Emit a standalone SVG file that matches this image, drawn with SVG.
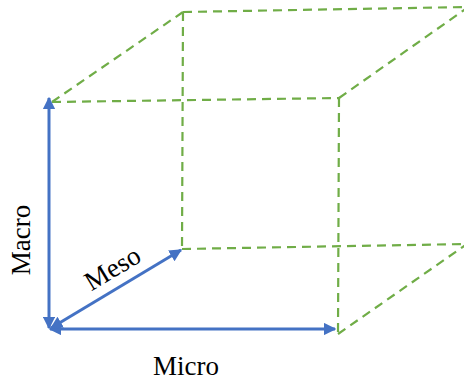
<svg xmlns="http://www.w3.org/2000/svg" width="464" height="383" viewBox="0 0 464 383">
<style>
.cube{stroke:#70AD47;stroke-width:2.2;stroke-dasharray:9 6;fill:none}
.axis{stroke:#4472C4;stroke-width:3;fill:none;marker-start:url(#ah);marker-end:url(#ah)}
.lbl{font-family:"Liberation Serif","Times New Roman",serif;font-size:27px;fill:#000}
</style>
<defs>
<marker id="ah" viewBox="0 0 10 10" refX="9" refY="5" markerWidth="4.2" markerHeight="4.2" orient="auto-start-reverse" markerUnits="strokeWidth">
<path d="M0,0 L10,5 L0,10 z" fill="#4472C4"/>
</marker>
</defs>
<rect width="464" height="383" fill="#fff"/>
<g id="cube">
<line class="cube" x1="52" y1="102" x2="339" y2="98"/>
<line class="cube" x1="339" y1="98" x2="338" y2="334"/>
<line class="cube" x1="183" y1="12" x2="466" y2="7"/>
<line class="cube" x1="183" y1="12" x2="182" y2="249"/>
<line class="cube" x1="182" y1="249" x2="466" y2="244"/>
<line class="cube" x1="52" y1="102" x2="183" y2="12"/>
<line class="cube" x1="339" y1="98" x2="467" y2="8"/>
<line class="cube" x1="338" y1="334" x2="467" y2="244"/>
</g>
<g id="connectors">
<line class="axis" x1="49" y1="328" x2="49" y2="98"/>
<line class="axis" x1="50" y1="329" x2="335" y2="329"/>
<line class="axis" x1="51" y1="328" x2="181" y2="250"/>
</g>
<g id="labels">
<text class="lbl" text-anchor="middle" transform="translate(30,240) rotate(-90)">Macro</text>
<text class="lbl" text-anchor="middle" transform="translate(117,276) rotate(-31)">Meso</text>
<text class="lbl" x="186" y="375" text-anchor="middle">Micro</text>
</g>
</svg>
